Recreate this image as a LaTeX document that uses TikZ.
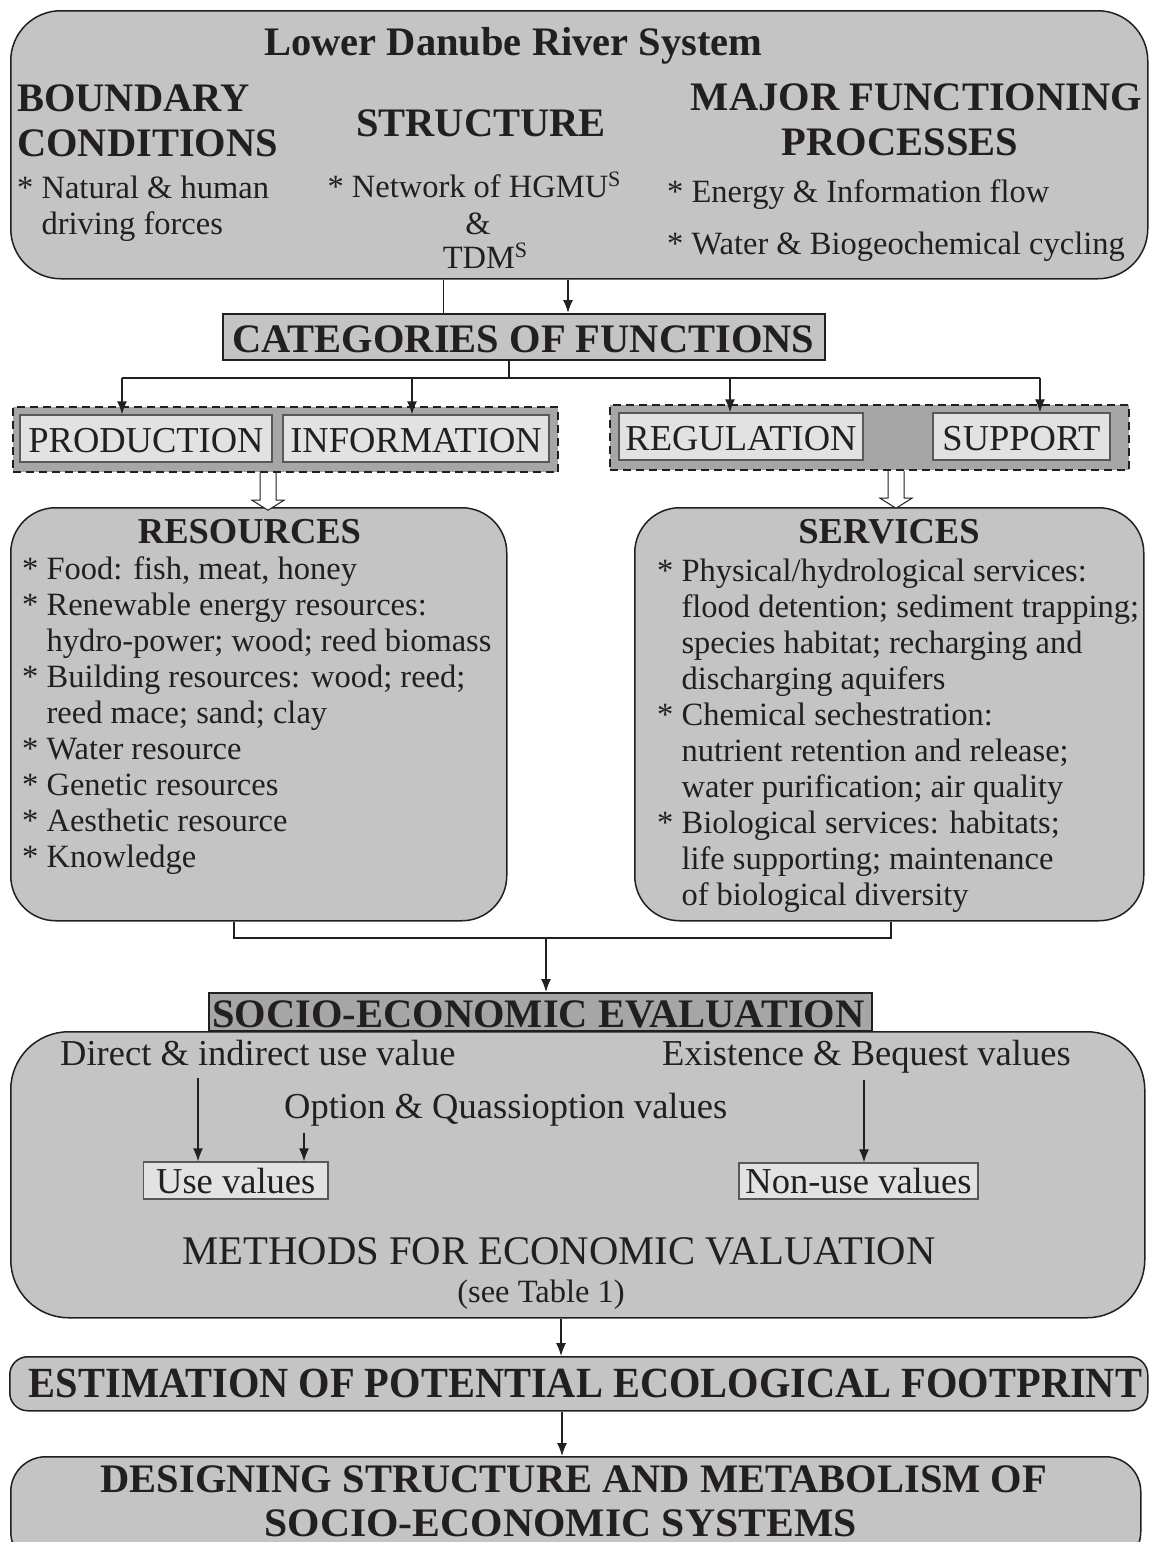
\documentclass[tikz,border=0pt]{standalone}
\usepackage{fontspec}
\setmainfont{Liberation Serif}
\usetikzlibrary{arrows.meta,calc}
\definecolor{boxgray}{RGB}{196,196,196}
\definecolor{dgray}{RGB}{166,166,166}
\definecolor{lgray}{RGB}{226,226,226}
\definecolor{ink}{RGB}{35,31,32}
\newcommand\fHead{\fontsize{40.5}{45}\selectfont\bfseries}
\newcommand\fSub{\fontsize{36.5}{40}\selectfont\bfseries}
\newcommand\fBody{\fontsize{32.5}{36}\selectfont}
\newcommand\fMid{\fontsize{36.5}{40}\selectfont}
\newcommand\fMeth{\fontsize{40.7}{44}\selectfont}
\newcommand\supS{\raisebox{11pt}{\fontsize{22}{22}\selectfont S}}
\newcommand\tstrut{\rule{0pt}{30pt}}
\newcommand\ind{\hphantom{*~}}
\tikzset{
  every node/.style={inner sep=0pt, text=ink},
  mainbox/.style={draw=ink, line width=1.5pt, fill=boxgray},
  conn/.style={draw=ink, line width=1.5pt},
  arr/.style={conn, -{Latex[length=13pt,width=10pt]}},
  dashbox/.style={draw=ink, line width=2.2pt, dash pattern=on 8pt off 5pt, fill=dgray},
  innerbox/.style={draw=ink!75, line width=1.2pt, fill=lgray, font=\fMid},
  capbox/.style={innerbox, text height=28.4pt, text depth=0pt},
  hollow/.style={draw=ink, line width=1pt, fill=white},
  body/.style={font=\fBody},
  head/.style={font=\fHead},
}
\begin{document}
\begin{tikzpicture}[x=1pt,y=-1pt]
\useasboundingbox (0,0) rectangle (1149,1542);
\fill[white] (0,0) rectangle (1149,1542);
\clip (0,0) rectangle (1149,1542);

% ---------- top box ----------
\node[mainbox, rounded corners=50pt, minimum width=1137pt, minimum height=268pt, anchor=north west] (topbox) at (10,10) {};
\node[head, anchor=base] (title) at (513.5,55) {Lower Danube River System};
\node[head, anchor=base west] (bc1) at (17,111) {BOUNDARY};
\node[head, anchor=base west] (bc2) at (17,156) {CONDITIONS};
\node[head, anchor=base] (struct) at (481,136) {STRUCTURE};
\node[head, anchor=base] (mfp1) at (916.5,110) {MAJOR FUNCTIONING};
\node[head, anchor=base] (mfp2) at (900,155) {PROCESSES};
\node[body, anchor=north west, align=left] (nat) at (17,168) {\tstrut* Natural \& human\\\ind driving forces};
\node[body, anchor=base] (net) at (474,197) {* Network of HGMU\supS};
\node[body, anchor=base] (amp) at (478,234) {\&};
\node[body, anchor=base] (tdm) at (485,268) {TDM\supS};
\node[body, anchor=base west] (energy) at (667,202) {* Energy \& Information flow};
\node[body, anchor=base west] (water) at (667,254) {* Water \& Biogeochemical cycling};

% ---------- categories ----------
\node[mainbox, minimum width=602pt, minimum height=46pt, anchor=north west] (cat) at (222,313) {};
\node[head, anchor=base] (catt) at (523.5,352) {CATEGORIES OF FUNCTIONS};
\coordinate (t1) at (443,0);
\coordinate (t2) at (568,0);
\draw[conn, line width=1pt] (topbox.south -| t1) -- (cat.north -| t1);
\draw[arr] (topbox.south -| t2) -- (cat.north -| t2);

% ---------- function groups ----------
\node[dashbox, minimum width=545.5pt, minimum height=65pt, anchor=north west] (dashL) at (11.5,406) {};
\node[dashbox, minimum width=519pt, minimum height=65pt, anchor=north west] (dashR) at (609,404) {};
\node[capbox, minimum width=252pt, minimum height=47pt] (prod) at (146,438.5) {PRODUCTION};
\node[capbox, minimum width=266pt, minimum height=47pt] (info) at (416,438.5) {INFORMATION};
\node[capbox, minimum width=244pt, minimum height=47pt] (reg) at (741,436.5) {REGULATION};
\node[capbox, minimum width=177pt, minimum height=47pt] (sup) at (1021.5,436.5) {SUPPORT};

\coordinate (j1) at (509,378);
\coordinate (h1) at (122,378);
\coordinate (h2) at (412,378);
\coordinate (h3) at (730,378);
\coordinate (h4) at (1040,378);
\draw[conn, line width=1.2pt] (cat.south -| j1) -- (j1);
\draw[conn, line width=1.2pt] (h1) -- (h4);
\draw[arr] (h1) -- (prod.north -| h1);
\draw[arr] (h2) -- (info.north -| h2);
\draw[arr] (h3) -- (reg.north -| h3);
\draw[arr] (h4) -- (sup.north -| h4);

% ---------- resources / services ----------
\node[mainbox, rounded corners=45pt, minimum width=496pt, minimum height=413pt, anchor=north west] (res) at (10,507) {};
\node[mainbox, rounded corners=45pt, minimum width=509pt, minimum height=413pt, anchor=north west] (serv) at (634,507) {};

\coordinate (hL) at (268,0);
\coordinate (hR) at (896,0);
\draw[hollow] (dashL.south -| hL) ++(-8,0) -- ++(0,27) -- ++(-8,0) -- ++(16,10) -- ++(16,-10) -- ++(-8,0) -- ++(0,-27);
\draw[hollow] (dashR.south -| hR) ++(-8,0) -- ++(0,27) -- ++(-8,0) -- ++(16,10) -- ++(16,-10) -- ++(-8,0) -- ++(0,-27);

\node[font=\fSub, anchor=base] (rest) at (249.5,543) {RESOURCES};
\node[font=\fSub, anchor=base] (servt) at (889,543) {SERVICES};
\node[body, anchor=north west, align=left] (reslist) at (22,549) {\tstrut* Food: fish, meat, honey\\
* Renewable energy resources:\\
\ind hydro-power; wood; reed biomass\\
* Building resources: wood; reed;\\
\ind reed mace; sand; clay\\
* Water resource\\
* Genetic resources\\
* Aesthetic resource\\
* Knowledge};
\node[body, anchor=north west, align=left] (servlist) at (657,551) {\tstrut* Physical/hydrological services:\\
\ind flood detention; sediment trapping;\\
\ind species habitat; recharging and\\
\ind discharging aquifers\\
* Chemical sechestration:\\
\ind nutrient retention and release;\\
\ind water purification; air quality\\
* Biological services: habitats;\\
\ind life supporting; maintenance\\
\ind of biological diversity};

% ---------- evaluation ----------
\node[mainbox, rounded corners=58pt, minimum width=1134pt, minimum height=286pt, anchor=north west] (evalbox) at (10,1031) {};
\node[draw=ink, line width=1.5pt, fill=dgray, minimum width=663pt, minimum height=38pt, anchor=north west] (socio) at (208,992) {};
\node[head, anchor=base] (sociot) at (538.5,1027) {SOCIO-ECONOMIC EVALUATION};

\coordinate (r1) at (234,0);
\coordinate (s1) at (891,0);
\coordinate (j2) at (546,938);
\draw[conn] (res.south -| r1) -- (r1 |- j2) -- (s1 |- j2) -- (serv.south -| s1);
\draw[arr] (j2) -- (socio.north -| j2);

\node[font=\fMid, anchor=base west] (direct) at (60,1065) {Direct \& indirect use value};
\node[font=\fMid, anchor=base west] (exist) at (662,1065) {Existence \& Bequest values};
\node[font=\fMid, anchor=base west] (option) at (284,1118) {Option \& Quassioption values};
\node[innerbox, minimum width=184.5pt, minimum height=37pt] (usev) at (235.75,1180.5) {Use values};
\node[innerbox, minimum width=239pt, minimum height=36pt] (nonuse) at (858.5,1181) {Non-use values};
\coordinate (u1s) at (198,1078);
\coordinate (u2s) at (304,1133);
\coordinate (n1s) at (864,1080);
\draw[arr] (u1s) -- (usev.north -| u1s);
\draw[arr] (u2s) -- (usev.north -| u2s);
\draw[arr] (n1s) -- (nonuse.north -| n1s);

\node[font=\fMeth, anchor=base] (meth) at (559,1264) {METHODS FOR ECONOMIC VALUATION};
\node[body, anchor=base] (table) at (541,1302) {(see Table 1)};

% ---------- estimation / designing ----------
\node[mainbox, rounded corners=18pt, minimum width=1138pt, minimum height=54pt, anchor=north west] (est) at (9,1356) {};
\node[anchor=base] (estt) at (585.5,1397) {\fontsize{43}{43}\selectfont\bfseries\scalebox{0.94}[1]{ESTIMATION OF POTENTIAL ECOLOGICAL FOOTPRINT}};
\node[mainbox, rounded corners=35pt, minimum width=1130pt, minimum height=110pt, anchor=north west] (design) at (10,1456) {};
\node[head, anchor=base] (des1) at (574,1492) {DESIGNING STRUCTURE AND METABOLISM OF};
\node[head, anchor=base] (des2) at (560.5,1536) {\scalebox{1.03}[1]{SOCIO-ECONOMIC SYSTEMS}};

\coordinate (m1) at (561,0);
\coordinate (m2) at (562,0);
\draw[arr] (evalbox.south -| m1) -- (est.north -| m1);
\draw[arr] (est.south -| m2) -- (design.north -| m2);
\end{tikzpicture}
\end{document}
